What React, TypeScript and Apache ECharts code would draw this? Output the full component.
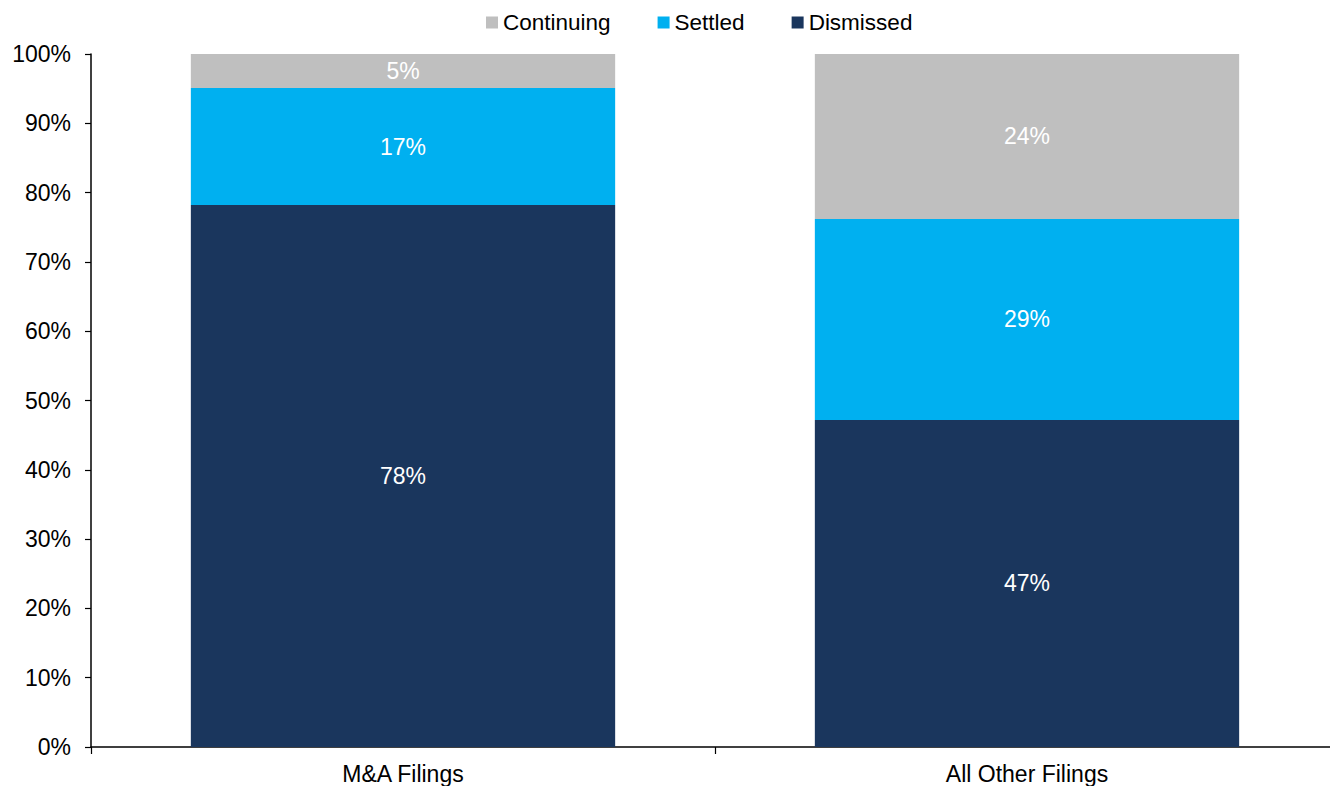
import React, { useEffect, useRef } from "react";
import * as echarts from "echarts";

const categories = ["M&A Filings", "All Other Filings"];
const dismissed = [78.2, 47.2];
const settled = [16.9, 29.0];
const continuing = [4.9, 23.8];
const yTicks = [0, 10, 20, 30, 40, 50, 60, 70, 80, 90, 100];

const FONT = "Liberation Sans, Arial, sans-serif";
const FS = 23;

export default function App() {
  const ref = useRef<HTMLDivElement>(null);
  useEffect(() => {
    if (!ref.current) return;
    const chart = echarts.init(ref.current, undefined, { renderer: "svg" });
    const label = {
      show: true,
      position: "inside",
      color: "#ffffff",
      fontFamily: FONT,
      fontSize: FS,
      formatter: (p: any) => Math.round(p.value) + "%",
    };
    chart.setOption({
      animation: false,
      textStyle: { fontFamily: FONT },
      legend: {
        data: ["Continuing", "Settled", "Dismissed"],
        left: 481,
        top: 6,
        itemWidth: 12,
        itemHeight: 12,
        itemGap: 47,
        icon: "rect",
        textStyle: { fontFamily: FONT, fontSize: 22.5, color: "#000" },
      },
      grid: { left: 91, right: 1, top: 54, bottom: 39, containLabel: false },
      xAxis: {
        type: "category",
        data: categories,
        axisLine: { lineStyle: { color: "#000", width: 1.5 } },
        axisTick: { show: true, length: 7, lineStyle: { color: "#000", width: 1.2 } },
        axisLabel: { color: "#000", fontFamily: FONT, fontSize: FS, margin: 15 },
      },
      yAxis: {
        type: "value",
        min: yTicks[0],
        max: yTicks[yTicks.length - 1],
        interval: 10,
        axisLine: { show: true, lineStyle: { color: "#000", width: 1.5 } },
        axisTick: { show: true, length: 6, lineStyle: { color: "#000", width: 1.2 } },
        splitLine: { show: false },
        axisLabel: {
          color: "#000",
          fontFamily: FONT,
          fontSize: FS,
          margin: 20,
          formatter: (v: number) => v + "%",
        },
      },
      series: [
        {
          name: "Dismissed",
          type: "bar",
          stack: "s",
          data: dismissed,
          barWidth: "68%",
          itemStyle: { color: "#1A365D" },
          label,
        },
        {
          name: "Settled",
          type: "bar",
          stack: "s",
          data: settled,
          itemStyle: { color: "#00B0F0" },
          label,
        },
        {
          name: "Continuing",
          type: "bar",
          stack: "s",
          data: continuing,
          itemStyle: { color: "#BFBFBF" },
          label,
        },
      ],
    });
    return () => chart.dispose();
  }, []);
  return (
    <div
      style={{
        position: "absolute",
        left: 0,
        top: 0,
        width: 1330,
        height: 786,
        overflow: "hidden",
      }}
    >
      <div ref={ref} style={{ width: 1340, height: 786 }} />
    </div>
  );
}
